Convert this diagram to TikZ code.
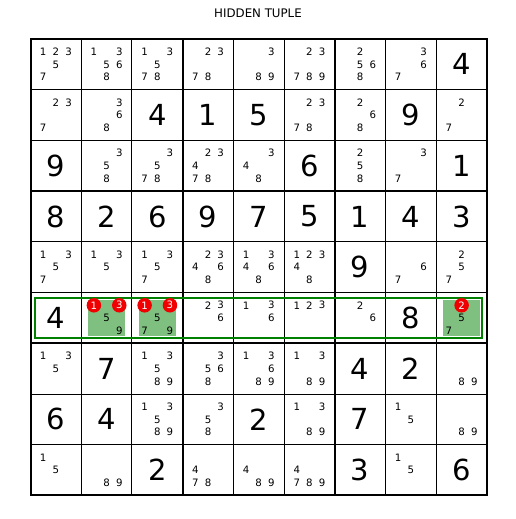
\documentclass[tikz,border=0pt]{standalone}
\usepackage{fontspec}
\setmainfont{DejaVu Sans}
\definecolor{hlfill}{RGB}{127,191,127}
\definecolor{hlline}{RGB}{0,128,0}
\definecolor{mark}{RGB}{240,0,0}
\newcommand\ox{30.5}
\newcommand\oy{39}
\newcommand\cs{50.72}
\newcommand\cpos[3]{%
  \pgfmathsetmacro\cx{\ox+#2*\cs+(mod(#3-1,3)+1)*\cs/4}%
  \pgfmathsetmacro\cy{\oy+#1*\cs+(floor((#3-1)/3)+1)*\cs/4}}
\newcommand\cands[3]{%
  \foreach \d in {#3}{\cpos{#1}{#2}{\d}\node[cand] (k-#1-#2-\d) at (\cx,\cy) {\d};}}
\newcommand\marked[3]{%
  \foreach \d in {#3}{\cpos{#1}{#2}{\d}\node[markd] (m-#1-#2-\d) at (\cx,\cy) {\d};}}
\newcommand\givens[2]{%
  \foreach \g [count=\c from 0] in {#2}{%
    \ifx\g\empty\else
    \pgfmathsetmacro\cx{\ox+(\c+0.5)*\cs}%
    \pgfmathsetmacro\cy{\oy+(#1+0.5)*\cs}%
    \node[given] (g-#1-\c) at (\cx,\cy) {\g};\fi}}
\newcommand\hlcell[2]{%
  \pgfmathsetmacro\cx{\ox+(#2+0.5)*\cs}%
  \pgfmathsetmacro\cy{\oy+(#1+0.5)*\cs}%
  \node[hlbox] (h-#1-#2) at (\cx,\cy) {};}
\begin{document}
\begin{tikzpicture}[x=1pt,y=-1pt,
  cand/.style={font=\fontsize{10.2}{10.2}\selectfont, inner sep=0pt},
  markd/.style={circle, fill=mark, minimum size=14.5pt, inner sep=0pt,
    text=white, font=\fontsize{10.2}{10.2}\selectfont},
  given/.style={font=\fontsize{29}{29}\selectfont, inner sep=0pt},
  hlbox/.style={fill=hlfill, minimum width=37pt, minimum height=36pt, inner sep=0pt},
  thinline/.style={line width=0.9pt, line cap=rect},
  thickline/.style={line width=2pt, line cap=rect},
  hlrect/.style={draw=hlline, line width=2pt},
  title/.style={font=\fontsize{11.8}{11.8}\selectfont}]
\useasboundingbox (0,0) rectangle (516,519);
\node[title] (title) at (258,13) {HIDDEN TUPLE};
% highlighted cells
\hlcell{5}{1}
\hlcell{5}{2}
\hlcell{5}{8}
% grid
\foreach \i in {0,...,9}{
  \pgfmathsetmacro\p{\ox+\i*\cs}
  \pgfmathsetmacro\q{\oy+\i*\cs}
  \pgfmathtruncatemacro\m{mod(\i,3)}
  \ifnum\m=0
    \draw[thickline] (\p,\oy) -- (\p,\oy+9*\cs);
    \draw[thickline] (\ox,\q) -- (\ox+9*\cs,\q);
  \else
    \draw[thinline] (\p,\oy) -- (\p,\oy+9*\cs);
    \draw[thinline] (\ox,\q) -- (\ox+9*\cs,\q);
  \fi}
% highlight rectangle around row 6
\draw[hlrect] (\ox+4.5,\oy+5*\cs+5.5) rectangle (\ox+9*\cs-5,\oy+6*\cs-5.5);
% givens
\givens{0}{,,,,,,,,4}
\givens{1}{,,4,1,5,,,9,}
\givens{2}{9,,,,,6,,,1}
\givens{3}{8,2,6,9,7,5,1,4,3}
\givens{4}{,,,,,,9,,}
\givens{5}{4,,,,,,,8,}
\givens{6}{,7,,,,,4,2,}
\givens{7}{6,4,,,2,,7,,}
\givens{8}{,,2,,,,3,,6}
% candidates
\cands{0}{0}{1,2,3,5,7}
\cands{0}{1}{1,3,5,6,8}
\cands{0}{2}{1,3,5,7,8}
\cands{0}{3}{2,3,7,8}
\cands{0}{4}{3,8,9}
\cands{0}{5}{2,3,7,8,9}
\cands{0}{6}{2,5,6,8}
\cands{0}{7}{3,6,7}
\cands{1}{0}{2,3,7}
\cands{1}{1}{3,6,8}
\cands{1}{5}{2,3,7,8}
\cands{1}{6}{2,6,8}
\cands{1}{8}{2,7}
\cands{2}{1}{3,5,8}
\cands{2}{2}{3,5,7,8}
\cands{2}{3}{2,3,4,7,8}
\cands{2}{4}{3,4,8}
\cands{2}{6}{2,5,8}
\cands{2}{7}{3,7}
\cands{4}{0}{1,3,5,7}
\cands{4}{1}{1,3,5}
\cands{4}{2}{1,3,5,7}
\cands{4}{3}{2,3,4,6,8}
\cands{4}{4}{1,3,4,6,8}
\cands{4}{5}{1,2,3,4,8}
\cands{4}{7}{6,7}
\cands{4}{8}{2,5,7}
\cands{5}{1}{5,9}
\cands{5}{2}{5,7,9}
\cands{5}{3}{2,3,6}
\cands{5}{4}{1,3,6}
\cands{5}{5}{1,2,3}
\cands{5}{6}{2,6}
\cands{5}{8}{5,7}
\cands{6}{0}{1,3,5}
\cands{6}{2}{1,3,5,8,9}
\cands{6}{3}{3,5,6,8}
\cands{6}{4}{1,3,6,8,9}
\cands{6}{5}{1,3,8,9}
\cands{6}{8}{8,9}
\cands{7}{2}{1,3,5,8,9}
\cands{7}{3}{3,5,8}
\cands{7}{5}{1,3,8,9}
\cands{7}{7}{1,5}
\cands{7}{8}{8,9}
\cands{8}{0}{1,5}
\cands{8}{1}{8,9}
\cands{8}{3}{4,7,8}
\cands{8}{4}{4,8,9}
\cands{8}{5}{4,7,8,9}
\cands{8}{7}{1,5}
% marked candidates
\marked{5}{1}{1,3}
\marked{5}{2}{1,3}
\marked{5}{8}{2}
\end{tikzpicture}
\end{document}
